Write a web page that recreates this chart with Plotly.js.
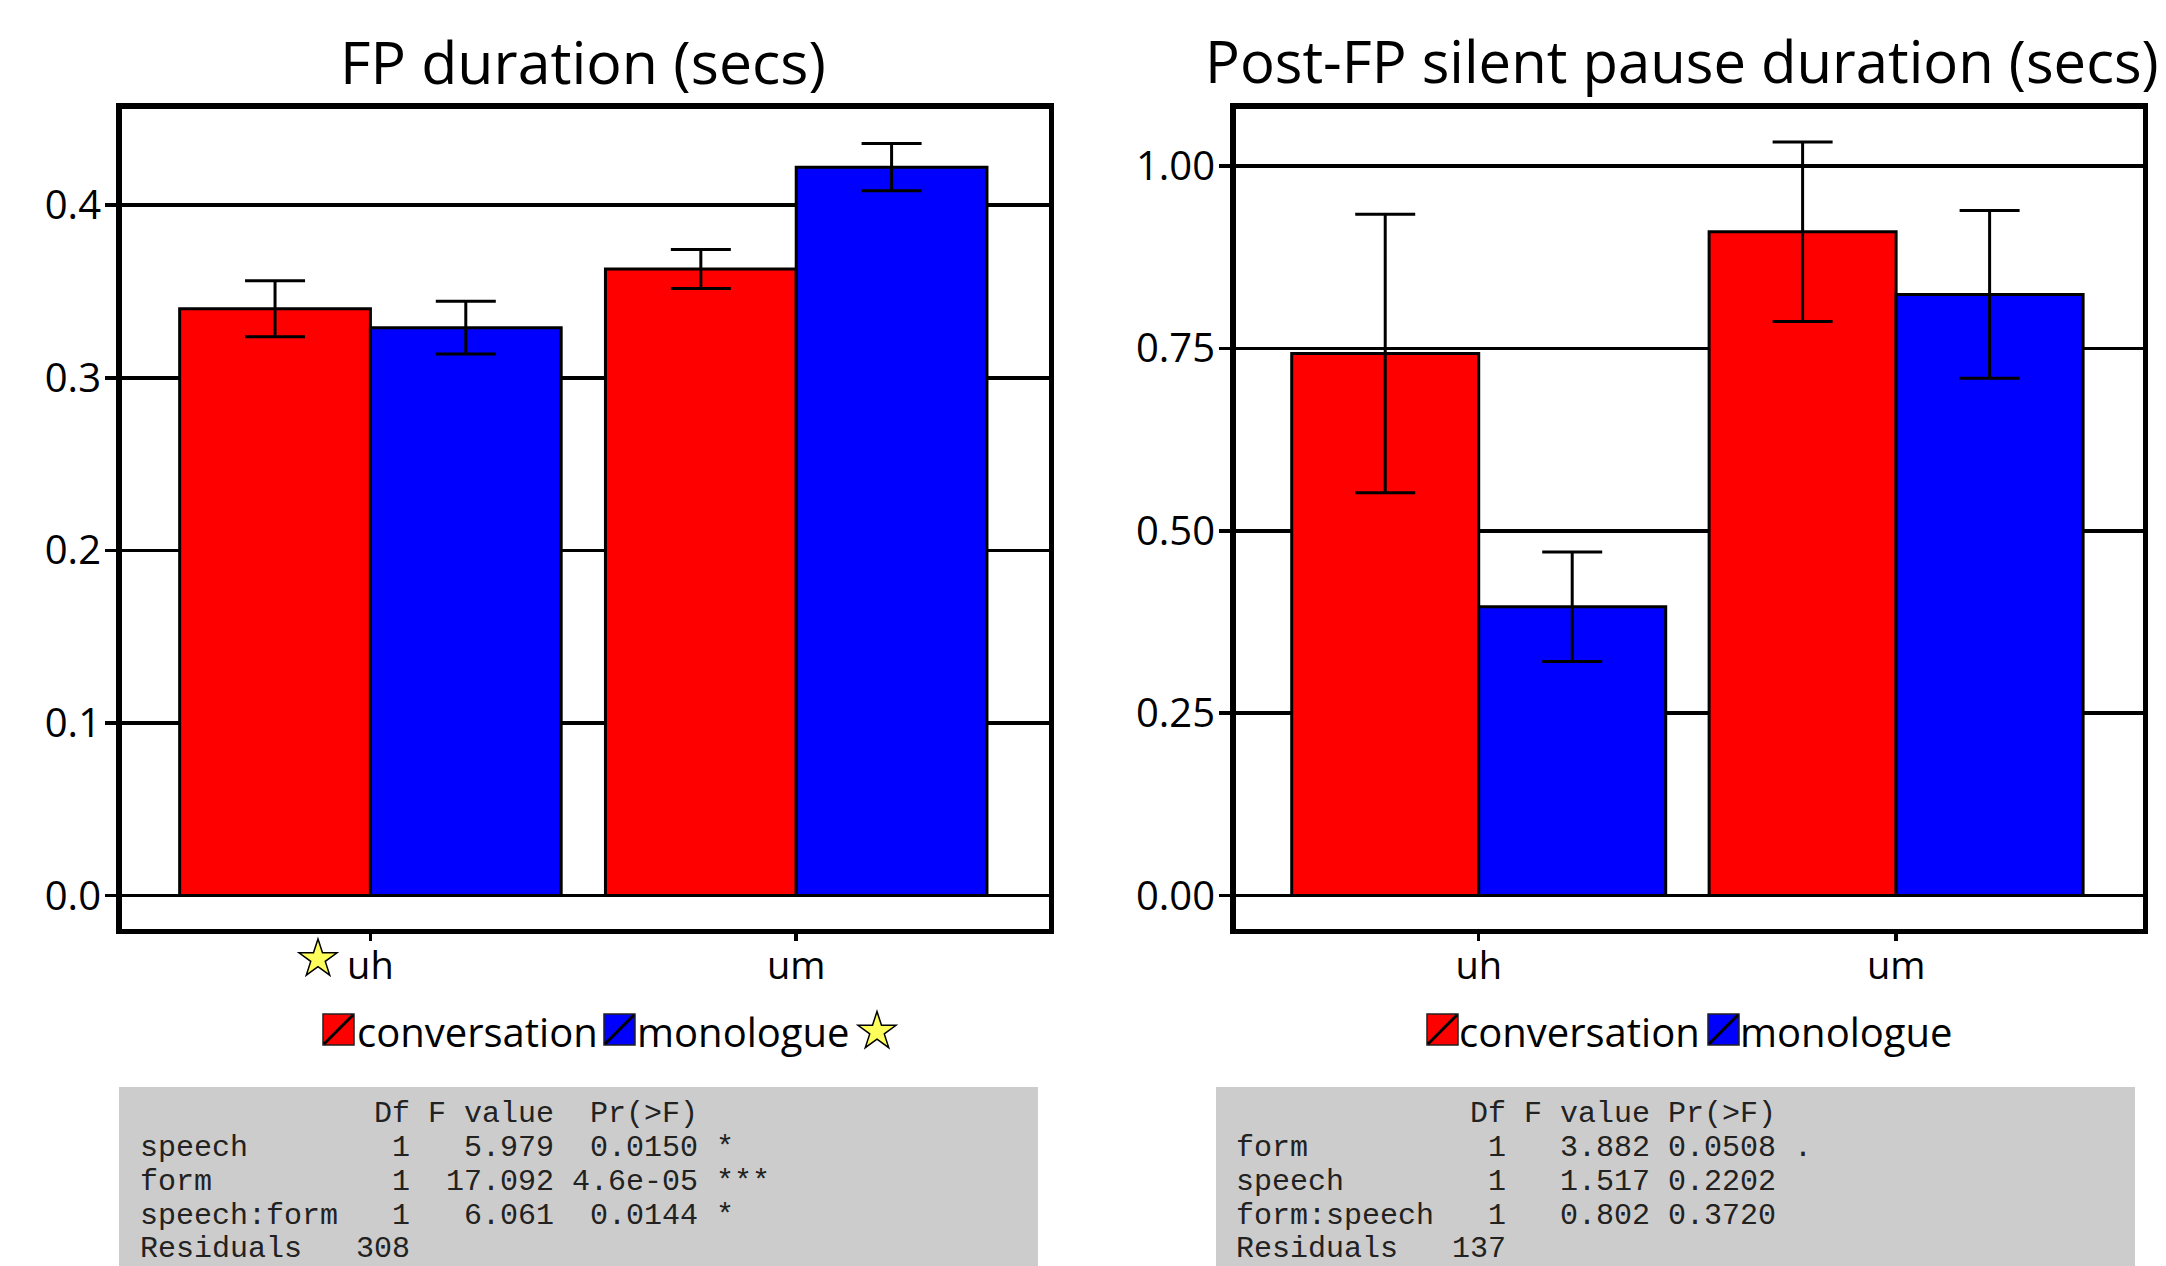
<!DOCTYPE html>
<html>
<head>
<meta charset="utf-8">
<script src="https://cdn.plot.ly/plotly-3.0.1.min.js"></script>
<style>html,body{margin:0;padding:0;background:#fff;}#chart{width:2166px;height:1266px;}</style>
</head>
<body>
<div id="chart"></div>
<script>
// ---------------- data ----------------
const categories = ['uh', 'um'];
const seriesNames = ['conversation', 'monologue'];

const fpTitle = 'FP duration (secs)';
const fpConversation = [0.340, 0.363];
const fpConversationSE = [0.0162, 0.0113];
const fpMonologue = [0.329, 0.422];
const fpMonologueSE = [0.0153, 0.0137];
const fpTickVals = [0.0, 0.1, 0.2, 0.3, 0.4];

const pauseTitle = 'Post-FP silent pause duration (secs)';
const pauseConversation = [0.743, 0.910];
const pauseConversationSE = [0.191, 0.123];
const pauseMonologue = [0.396, 0.824];
const pauseMonologueSE = [0.075, 0.115];
const pauseTickVals = [0.00, 0.25, 0.50, 0.75, 1.00];

const fpAnova = [
  '             Df F value  Pr(>F)    ',
  'speech        1   5.979  0.0150 *  ',
  'form          1  17.092 4.6e-05 ***',
  'speech:form   1   6.061  0.0144 *  ',
  'Residuals   308                    '
];
const pauseAnova = [
  '             Df F value Pr(>F)  ',
  'form          1   3.882 0.0508 .',
  'speech        1   1.517 0.2202  ',
  'form:speech   1   0.802 0.3720  ',
  'Residuals   137                 '
];

// ---------------- helpers ----------------
const W = 2166, H = 1266;
const px = x => x / W;
const py = y => 1 - y / H;
const RED = '#ff0000', BLUE = '#0000ff';
const SANS = 'Open Sans, Noto Sans, sans-serif';
const MONO = 'Liberation Mono, Courier New, monospace';

function barTrace(name, y, se, color, xa, ya) {
  return {
    type: 'bar', name: name, x: categories, y: y,
    xaxis: xa, yaxis: ya, showlegend: false,
    marker: {color: color, line: {color: '#000', width: 3}},
    error_y: {type: 'data', array: se, visible: true, color: '#000', thickness: 3, width: 30},
    hoverinfo: 'x+y'
  };
}

const data = [
  barTrace(seriesNames[0], fpConversation, fpConversationSE, RED, 'x', 'y'),
  barTrace(seriesNames[1], fpMonologue, fpMonologueSE, BLUE, 'x', 'y'),
  barTrace(seriesNames[0], pauseConversation, pauseConversationSE, RED, 'x2', 'y2'),
  barTrace(seriesNames[1], pauseMonologue, pauseMonologueSE, BLUE, 'x2', 'y2')
];

function xAxis(domPx, range, anchor) {
  return {
    domain: [px(domPx[0]), px(domPx[1])], anchor: anchor,
    type: 'category', categoryorder: 'array', categoryarray: categories,
    range: range, showgrid: false, zeroline: false,
    showline: true, mirror: true, linecolor: '#000', linewidth: 5.5,
    ticks: 'outside', ticklen: 7, tickwidth: 3.5, tickcolor: '#000',
    ticklabelstandoff: -8,
    tickfont: {family: SANS, size: 38, color: '#000'}, fixedrange: true
  };
}
function yAxis(range, tickvals, fmt, anchor) {
  return {
    domain: [py(928.5), py(108.5)], anchor: anchor,
    range: range, tickmode: 'array', tickvals: tickvals, tickformat: fmt,
    showgrid: true, gridcolor: '#000', gridwidth: 3.5, zeroline: false,
    showline: true, mirror: true, linecolor: '#000', linewidth: 5.5,
    ticks: 'outside', ticklen: 11, tickwidth: 3.5, tickcolor: '#000',
    ticklabelstandoff: -4,
    tickfont: {family: SANS, size: 40, color: '#000'}, fixedrange: true
  };
}

const shapes = [];
const annotations = [];

// titles
annotations.push({xref: 'paper', yref: 'paper', x: px(583), y: py(61), xanchor: 'center', yanchor: 'middle',
  text: fpTitle, showarrow: false, font: {family: SANS, size: 59, color: '#000'}});
annotations.push({xref: 'paper', yref: 'paper', x: px(1203), y: py(61), xanchor: 'left', yanchor: 'middle',
  text: pauseTitle, showarrow: false, font: {family: SANS, size: 58, color: '#000'}});

// legend (manual, with the diagonal-line swatch)
function swatch(x0, y0, size, color) {
  shapes.push({type: 'rect', xref: 'paper', yref: 'paper', x0: px(x0), x1: px(x0 + size), y0: py(y0 + size), y1: py(y0),
    fillcolor: color, line: {color: '#222', width: 1.5}});
  shapes.push({type: 'line', xref: 'paper', yref: 'paper', x0: px(x0 + 1), y0: py(y0 + size - 1), x1: px(x0 + size - 1), y1: py(y0 + 1),
    line: {color: '#000', width: 3}});
}
function legendText(x, y, txt) {
  annotations.push({xref: 'paper', yref: 'paper', x: px(x), y: py(y), xanchor: 'left', yanchor: 'middle',
    text: txt, showarrow: false, font: {family: SANS, size: 40, color: '#000'}});
}
swatch(323, 1014, 31, RED);  legendText(355, 1031, seriesNames[0]);
swatch(604, 1014, 31, BLUE); legendText(635, 1031, seriesNames[1]);
swatch(1427, 1014, 31, RED);  legendText(1457, 1031, seriesNames[0]);
swatch(1708, 1014, 31, BLUE); legendText(1738, 1031, seriesNames[1]);

// decorative stars
function star(cx, cy, R) {
  const r = R * 0.382;
  let d = '';
  for (let i = 0; i < 10; i++) {
    const a = -Math.PI / 2 + i * Math.PI / 5;
    const rr = (i % 2 === 0) ? R : r;
    const x = px(cx + rr * Math.cos(a)), y = py(cy + rr * Math.sin(a));
    d += (i === 0 ? 'M' : 'L') + x + ',' + y;
  }
  d += 'Z';
  shapes.push({type: 'path', xref: 'paper', yref: 'paper', path: d, fillcolor: '#ffff5c', line: {color: '#000', width: 1.5}});
}
star(318, 959, 20);
star(877, 1031.5, 20);

// ANOVA boxes
shapes.push({type: 'rect', xref: 'paper', yref: 'paper', x0: px(119), x1: px(1038), y0: py(1270), y1: py(1087),
  fillcolor: '#cccccc', line: {width: 0}, layer: 'below'});
shapes.push({type: 'rect', xref: 'paper', yref: 'paper', x0: px(1216), x1: px(2135), y0: py(1270), y1: py(1087),
  fillcolor: '#cccccc', line: {width: 0}, layer: 'below'});
const lineY = [1114, 1148, 1182, 1215.5, 1248.5];
function anovaText(lines, x) {
  lines.forEach((ln, i) => {
    annotations.push({xref: 'paper', yref: 'paper', x: px(x), y: py(lineY[i]), xanchor: 'left', yanchor: 'middle',
      text: ln.replace(/ /g, '\u00a0'), showarrow: false, font: {family: MONO, size: 30, color: '#222'}});
  });
}
anovaText(fpAnova, 138);
anovaText(pauseAnova, 1234);

const layout = {
  width: W, height: H,
  margin: {l: 0, r: 0, t: 0, b: 0, pad: 0},
  paper_bgcolor: '#fff', plot_bgcolor: '#fff',
  barmode: 'group', bargap: 0.104, bargroupgap: 0,
  showlegend: false,
  xaxis: xAxis([121.5, 1048.5], [-0.5846, 1.5925], 'y'),
  yaxis: yAxis([-0.0191, 0.4560], fpTickVals, '.1f', 'x'),
  xaxis2: xAxis([1235.5, 2142.5], [-0.5827, 1.5903], 'y2'),
  yaxis2: yAxis([-0.0451, 1.0788], pauseTickVals, '.2f', 'x2'),
  shapes: shapes,
  annotations: annotations
};

Plotly.newPlot('chart', data, layout, {displayModeBar: false, staticPlot: true});
</script>
</body>
</html>
